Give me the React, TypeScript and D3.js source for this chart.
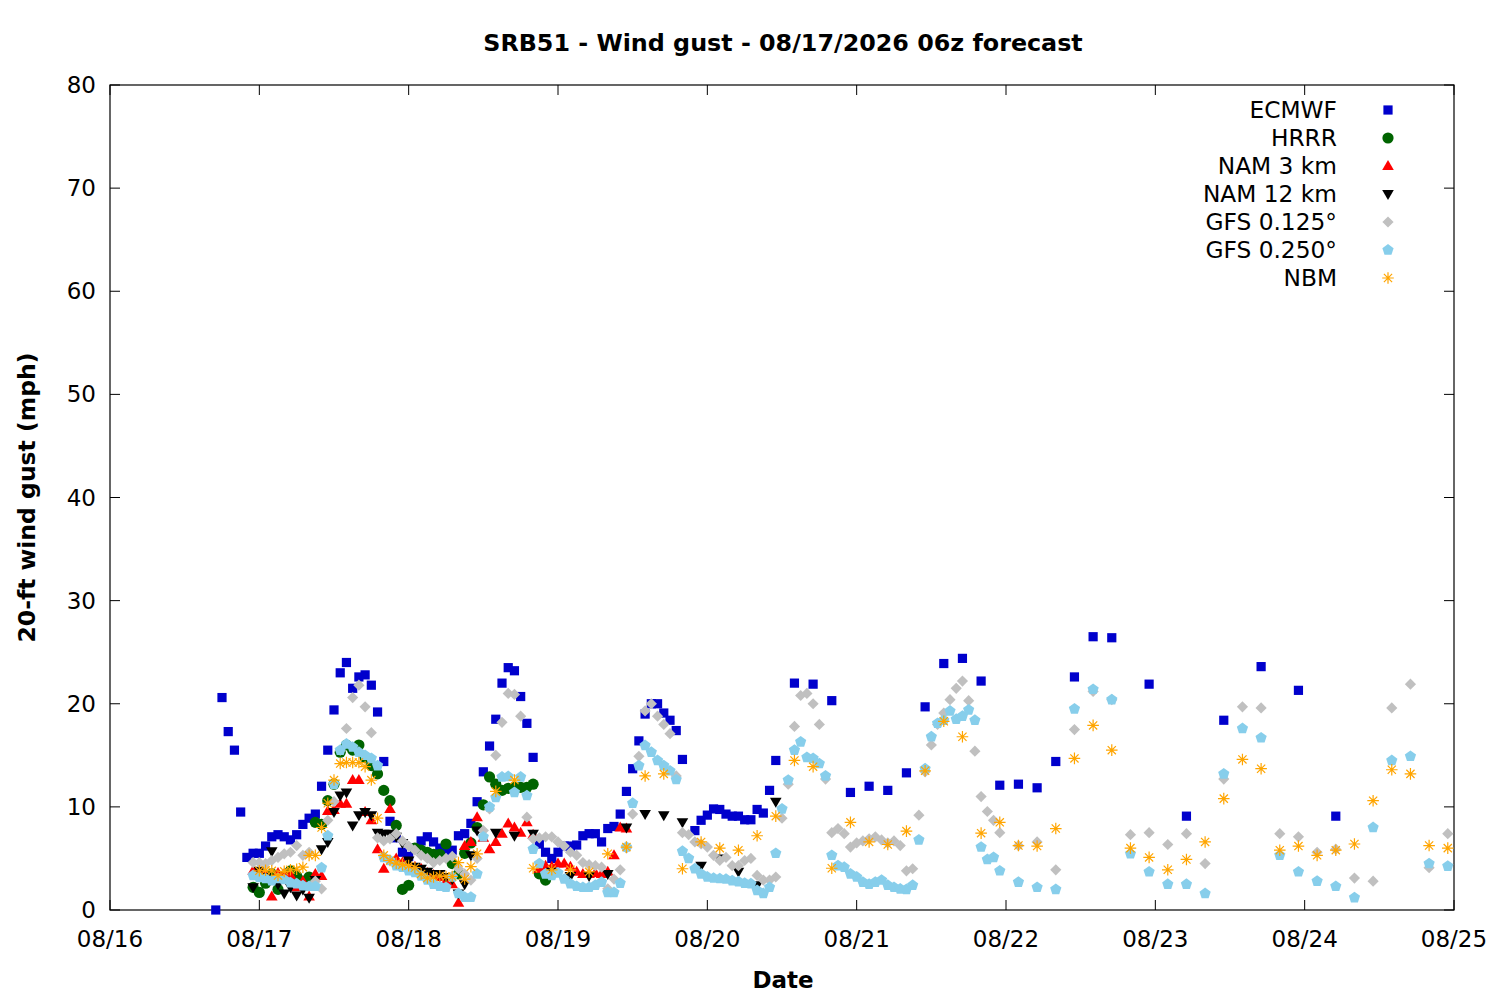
import React from "react";
import * as d3 from "d3";

// hours are counted from 08/16 00:00 (local)
const dayLabels = ["08/16", "08/17", "08/18", "08/19", "08/20", "08/21", "08/22", "08/23", "08/24", "08/25"];
const yTicks = [0, 10, 20, 30, 40, 50, 60, 70, 80];

// ECMWF: hourly from h17, then 3-hourly from h110, then 6-hourly from h167
const ecmwfHourly = [
  0, 20.6, 17.3, 15.5, 9.5, 5.1, 5.5, 5.5, 6.2, 7.1, 7.3, 7.1, 6.8, 7.3, 8.3, 8.9, 9.3, 12.0, 15.5, 19.4,
  23.0, 24.0, 21.5, 22.6, 22.8, 21.8, 19.2, 14.4, 8.6, 7.0, 5.6, 5.2, 6.0, 6.7, 7.1, 6.6, 6.0, 5.6, 5.8, 7.2,
  7.4, 8.4, 10.5, 13.4, 15.9, 18.5, 22.0, 23.5, 23.2, 20.7, 18.1, 14.8, 6.4, 5.6, 5.0, 5.6, 6.2, 6.2, 6.3, 7.2,
  7.4, 7.4, 6.6, 7.9, 8.1, 9.3, 11.5, 13.7, 16.4, 19.0, 20.0, 20.0, 19.1, 18.4, 17.4, 14.6, null, 7.7, 8.7, 9.2,
  9.8, 9.75, 9.3, 9.1, 9.1, 8.75, 8.75, 9.75, 9.4, 11.6, 14.5,
];
const ecmwf3h = [22.0, 21.9, 20.3, 11.4, 12.0, 11.6, 13.3, 19.7, 23.9, 24.4, 22.2, 12.1, 12.2, 11.85, 14.4, 22.6, 26.5, 26.4];
const ecmwf6h = [21.9, 9.1, 18.4, 23.6, 21.3, 9.1];

// HRRR: hourly from h23
const hrrrHourly = [
  2.2, 1.7, 2.6, 3.5, 2.0, 3.3, 3.8, 3.3, 2.8, 3.2, 8.5, 8.3, 10.6, 12.2, 15.3, 16.0, 15.5, 16.0, 14.8, 14.0,
  13.2, 11.6, 10.6, 8.2, 2.0, 2.4, 6.0, 5.8, 5.6, 5.4, 5.4, 6.4, 4.5, 3.5, 5.5, 6.5, 8.0, 10.2, 12.9, 12.2,
  11.6, 11.8, 11.9, 11.9, 11.9, 12.2, 3.5, 2.9, 3.5,
];

// NAM 3 km: hourly from h23
const nam3Hourly = [
  3.8, 3.7, 3.5, 1.3, 3.6, 3.5, 3.4, 2.2, 2.8, 1.3, 3.5, 3.3, 9.6, 9.7, 10.3, 10.3, 12.6, 12.6, 9.5, 8.7,
  5.9, 4.0, 9.8, 5.0, 4.6, 4.4, 4.2, 4.0, 3.6, 3.4, 3.2, 2.8, 2.5, 0.7, 6.2, 6.6, 9.0, 7.0, 5.9, 6.6,
  7.4, 8.4, 8.0, 7.5, 8.5, 7.3, 4.0, 4.3, 4.2, 4.5, 4.5, 4.2, 3.7, 3.5, 3.5, 3.6, 3.5, 3.7, 5.3, 8.0, 7.9,
];

// NAM 12 km: hourly from h23, then 3-hourly from h62
const nam12Hourly = [
  2.2, 3.8, 3.2, 5.7, 2.5, 1.6, 2.2, 1.4, 2.0, 1.2, 2.9, 5.9, 6.6, 9.5, 11.1, 11.4, 8.2, 9.2, 9.5, 9.2,
  7.5, 7.4, 7.4, 7.1, 6.5, 4.8, 4.2, 4.0, 3.7, 3.5, 3.5, 3.2, 3.0, 1.6, 2.5, 5.3, 7.7,
];
const nam12_3h = [7.5, 7.2, 7.4, 3.7, 3.3, 3.3, 3.5, 8.0, 9.3, 9.2, 8.5, 4.3, 5.0, 3.7, 2.4, 10.5];

// GFS 0.125°: hourly from h23, then 3-hourly from h146
const gfs125Hourly = [
  4.6, 4.6, 4.5, 4.8, 5.1, 5.45, 5.6, 6.25, 5.3, 5.6, 2.8, 2.05, 8.7, 10.5, 15.5, 17.6, 20.6, 21.8, 19.7, 17.2,
  7.0, 6.7, 6.9, 7.4, 6.7, 6.2, 5.8, 5.3, 5.0, 4.6, 4.8, 5.0, 5.2, 4.0, 3.5, 2.9, 5.0, 7.7, 9.8, 15.0,
  18.2, 21.0, 20.9, 18.8, 9.0, 6.9, 7.0, 7.1, 7.1, 6.6, 6.2, 5.6, 5.3, 4.6, 4.4, 4.3, 4.15, 2.05, 3.0, 3.9,
  6.0, 9.3, 14.9, 19.3, 20.0, 18.8, 18.0, 17.1, 13.0, 7.5, 7.3, 6.6, 6.4, 6.1, 5.3, 4.8, 5.1, 4.3, 4.3, 4.8,
  5.0, 3.35, 2.9, 2.9, 3.2, 8.9, 12.2, 17.8, 20.8, 21.0, 20.0, 18.0, 12.7, 7.5, 7.9, 7.4, 6.1, 6.5, 6.7, 6.9,
  7.1, 6.8, 6.5, 6.7, 6.25, 3.8, 4.0, 9.2, 13.4, 16.0, 18.0, 19.1, 20.4, 21.5, 22.2, 20.3, 15.4, 11.0, 9.55, 8.7,
  7.5,
];
const gfs125_3h = [6.25, 6.6, 3.9, 17.5, 21.2, 20.4, 7.3, 7.5, 6.35, 7.4, 4.5, 12.7, 19.7, 19.6, 7.4, 7.1, 5.6, 5.9, 3.1, 2.8, 19.6, 21.9, 4.1, 7.4];

// GFS 0.250°: hourly from h23, then 3-hourly from h146
const gfs250Hourly = [
  3.35, 3.15, 3.05, 2.85, 3.05, 2.95, 2.65, 2.55, 2.35, 2.3, 2.3, 4.1, 7.2, 12.2, 15.5, 16.1, 15.8, 15.3, 15.0, 14.7,
  14.0, 5.1, 4.8, 4.3, 4.15, 3.8, 3.65, 3.3, 2.9, 2.5, 2.3, 2.2, 3.2, 1.6, 1.25, 1.25, 3.5, 7.1, 10.0, 10.9,
  12.9, 12.95, 11.4, 12.9, 11.1, 5.9, 4.5, 3.5, 3.35, 3.6, 3.0, 2.55, 2.3, 2.2, 2.2, 2.4, 2.7, 1.7, 1.7, 2.6,
  6.1, 10.35, 14.0, 15.95, 15.3, 14.5, 14.0, 13.5, 12.65, 5.7, 5.0, 4.0, 3.5, 3.2, 3.1, 3.05, 3.0, 2.85, 2.75, 2.6,
  2.55, 1.9, 1.6, 2.2, 5.5, 9.8, 12.6, 15.5, 16.3, 14.8, 14.7, 14.2, 13.0, 5.3, 4.3, 4.15, 3.5, 3.2, 2.7, 2.5,
  2.7, 2.9, 2.4, 2.2, 2.05, 2.0, 2.4, 6.8, 13.7, 16.8, 18.1, 18.4, 19.3, 18.5, 18.8, 19.4, 18.4, 6.1, 4.9, 5.1,
  3.8,
];
const gfs250_3h = [2.7, 2.2, 2.0, 19.5, 21.4, 20.4, 5.45, 3.7, 2.5, 2.5, 1.6, 13.2, 17.6, 16.7, 5.3, 3.7, 2.8, 2.3, 1.2, 8.0, 14.5, 14.9, 4.5, 4.25];

// NBM: hourly from h24, then 3-hourly from h62
const nbmHourly = [
  3.8, 3.85, 3.8, 3.35, 3.75, 3.9, 3.95, 4.15, 5.3, 5.3, 8.0, 10.35, 12.6, 14.2, 14.3, 14.3, 14.3, 13.9, 12.6, 8.9,
  5.3, 4.8, 4.55, 4.4, 4.3, 4.1, 3.5, 3.1, 3.2, 3.3, 3.25, 3.25, 4.6, 3.0, 4.2, 5.45,
];
const nbm3h = [
  11.5, 12.6, 4.05, 3.9, 3.9, 3.7, 5.45, 6.1, 13.0, 13.2, 4.0, 6.6, 6.0, 5.8, 7.2, 9.1, 14.5, 13.9, 4.05, 8.5,
  6.6, 6.35, 7.65, 13.5, 18.3, 16.8, 7.45, 8.5, 6.25, 6.2, 7.9, 14.7, 17.9, 15.5, 6.0, 5.1, 3.9, 4.9, 6.6, 10.8,
  14.6, 13.7, 5.8, 6.2, 5.3, 5.8, 6.4, 10.6, 13.6, 13.2, 6.25, 6.0,
];

type Seg = { start: number; step: number; values: (number | null)[] };
type Pt = { h: number; v: number };

function expand(segs: Seg[]): Pt[] {
  const out: Pt[] = [];
  segs.forEach((s) => {
    s.values.forEach((v, i) => {
      if (v !== null && v !== undefined) out.push({ h: s.start + i * s.step, v });
    });
  });
  return out;
}

const series = [
  { name: "ECMWF", color: "#0000cc", shape: "square", pts: expand([{ start: 17, step: 1, values: ecmwfHourly }, { start: 110, step: 3, values: ecmwf3h }, { start: 167, step: 6, values: ecmwf6h }]) },
  { name: "HRRR", color: "#006400", shape: "circle", pts: expand([{ start: 23, step: 1, values: hrrrHourly }]) },
  { name: "NAM 3 km", color: "#ff0000", shape: "triUp", pts: expand([{ start: 23, step: 1, values: nam3Hourly }]) },
  { name: "NAM 12 km", color: "#000000", shape: "triDown", pts: expand([{ start: 23, step: 1, values: nam12Hourly }, { start: 62, step: 3, values: nam12_3h }]) },
  { name: "GFS 0.125°", color: "#c0c0c0", shape: "diamond", pts: expand([{ start: 23, step: 1, values: gfs125Hourly }, { start: 146, step: 3, values: gfs125_3h }]) },
  { name: "GFS 0.250°", color: "#87ceeb", shape: "pentagon", pts: expand([{ start: 23, step: 1, values: gfs250Hourly }, { start: 146, step: 3, values: gfs250_3h }]) },
  { name: "NBM", color: "#ffa500", shape: "star", pts: expand([{ start: 24, step: 1, values: nbmHourly }, { start: 62, step: 3, values: nbm3h }]) },
];

const W = 1500;
const H = 1000;
const M = { left: 110, right: 1454, top: 85, bottom: 910 };
const FONT = "'DejaVu Sans', sans-serif";
const t0 = Date.UTC(2026, 7, 16);
const hourMs = 3600 * 1000;

function Marker({ shape, color, x, y }: { shape: string; color: string; x: number; y: number }) {
  if (shape === "square") return <rect x={x - 4.6} y={y - 4.6} width={9.2} height={9.2} fill={color} />;
  if (shape === "circle") return <circle cx={x} cy={y} r={5.6} fill={color} />;
  if (shape === "triUp") return <path d={`M${x},${y - 6}L${x + 5.8},${y + 4}L${x - 5.8},${y + 4}Z`} fill={color} />;
  if (shape === "triDown") return <path d={`M${x},${y + 6}L${x + 5.8},${y - 4}L${x - 5.8},${y - 4}Z`} fill={color} />;
  if (shape === "diamond") return <path d={`M${x},${y - 5.6}L${x + 5.6},${y}L${x},${y + 5.6}L${x - 5.6},${y}Z`} fill={color} />;
  if (shape === "pentagon") {
    const r = 5.9;
    const p = d3.range(5).map((i) => {
      const a = -Math.PI / 2 + (i * 2 * Math.PI) / 5;
      return `${x + r * Math.cos(a)},${y + r * Math.sin(a)}`;
    });
    return <polygon points={p.join(" ")} fill={color} />;
  }
  const r = 5.8;
  const d = r * 0.7071;
  return (
    <path
      d={`M${x - r},${y}H${x + r}M${x},${y - r}V${y + r}M${x - d},${y - d}L${x + d},${y + d}M${x - d},${y + d}L${x + d},${y - d}`}
      stroke={color}
      strokeWidth={1.2}
      fill="none"
    />
  );
}

export default function App() {
  const x = d3
    .scaleTime()
    .domain([new Date(t0), new Date(t0 + 9 * 24 * hourMs)])
    .range([M.left, M.right]);
  const y = d3.scaleLinear().domain([0, 80]).range([M.bottom, M.top]);
  const xTicks = dayLabels.map((lab, i) => ({ lab, pos: x(new Date(t0 + i * 24 * hourMs)) }));
  const tl = 10;

  return (
    <svg width={W} height={H} style={{ position: "absolute", left: 0, top: 0, background: "#fff" }} fontFamily={FONT}>
      <rect width={W} height={H} fill="#fff" />
      <text x={783} y={51} textAnchor="middle" fontSize={23.8} fontWeight="bold">
        SRB51 - Wind gust - 08/17/2026 06z forecast
      </text>
      {yTicks.map((t) => (
        <g key={"y" + t}>
          <line x1={M.left} x2={M.left + tl} y1={y(t)} y2={y(t)} stroke="#000" />
          <line x1={M.right} x2={M.right - tl} y1={y(t)} y2={y(t)} stroke="#000" />
          <text x={96} y={y(t) + 8} textAnchor="end" fontSize={23}>
            {t}
          </text>
        </g>
      ))}
      {xTicks.map((t) => (
        <g key={t.lab}>
          <line x1={t.pos} x2={t.pos} y1={M.bottom} y2={M.bottom - tl} stroke="#000" />
          <line x1={t.pos} x2={t.pos} y1={M.top} y2={M.top + tl} stroke="#000" />
          <text x={t.pos} y={947} textAnchor="middle" fontSize={23}>
            {t.lab}
          </text>
        </g>
      ))}
      <rect x={M.left} y={M.top} width={M.right - M.left} height={M.bottom - M.top} fill="none" stroke="#000" strokeWidth={1.2} />
      <text x={783} y={988} textAnchor="middle" fontSize={23} fontWeight="bold">
        Date
      </text>
      <text transform={`translate(35,${(M.top + M.bottom) / 2}) rotate(-90)`} textAnchor="middle" fontSize={23.5} fontWeight="bold">
        20-ft wind gust (mph)
      </text>
      {series.map((s) => (
        <g key={s.name}>
          {s.pts.map((p, i) => (
            <Marker key={i} shape={s.shape} color={s.color} x={x(new Date(t0 + p.h * hourMs))} y={y(p.v)} />
          ))}
        </g>
      ))}
      {series.map((s, i) => (
        <g key={"leg" + s.name}>
          <text x={1337} y={110 + i * 28 + 8} textAnchor="end" fontSize={23.3}>
            {s.name}
          </text>
          <Marker shape={s.shape} color={s.color} x={1388} y={110 + i * 28} />
        </g>
      ))}
    </svg>
  );
}
